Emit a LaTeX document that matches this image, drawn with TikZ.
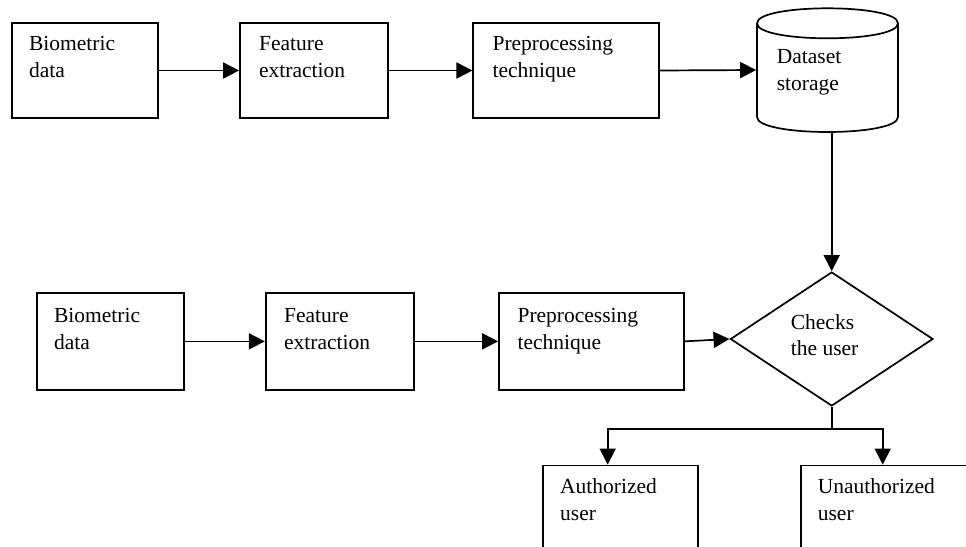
\documentclass[tikz,border=0pt]{standalone}
\usepackage{fontspec}
\setmainfont{Liberation Serif}
\usetikzlibrary{arrows.meta,shapes.geometric}
\newcommand\lblfont{\fontsize{21.5pt}{26.5pt}\selectfont}

\begin{document}
\begin{tikzpicture}[x=1pt, y=-1pt, line width=1.7pt,
  box/.style={draw, rectangle, inner sep=0pt},
  txt/.style={anchor=north west, inner sep=0pt, align=left, font=\lblfont},
  arr/.style={-{Triangle[length=16pt,width=16pt]}}]

\useasboundingbox (0,0) rectangle (966,546);
\clip (0,0) rectangle (966,546);
\fill[white] (0,0) rectangle (966,546);

% enrolment row
\node[box, minimum width=146.3pt, minimum height=95.6pt] (b1) at (84.85,70.5) {};
\node[box, minimum width=148.3pt, minimum height=95.6pt] (f1) at (314.15,70.5) {};
\node[box, minimum width=185.4pt, minimum height=95.6pt] (p1) at (566,70.5) {};

% dataset storage cylinder
\node[inner sep=0pt, minimum width=141pt, minimum height=123.4pt] (ds) at (827.5,70) {};
\draw (757,23.3) .. controls (757,3.3) and (898,3.3) .. (898,23.3)
      .. controls (898,43.3) and (757,43.3) .. (757,23.3);
\draw (757,23.3) -- (757,117)
      .. controls (757,137) and (898,137) .. (898,117) -- (898,23.3);

\node[txt] (b1t) at (28.3,31.45) {\strut Biometric\\data};
\node[txt] (f1t) at (258.3,31.45) {\strut Feature\\extraction};
\node[txt] (p1t) at (491.7,31.45) {\strut Preprocessing\\technique};
\node[txt] (dst) at (776,44.15) {\strut Dataset\\storage};

% verification row
\node[box, minimum width=147.3pt, minimum height=97.3pt] (b2) at (110.35,341.35) {};
\node[box, minimum width=148.3pt, minimum height=97.3pt] (f2) at (339.85,341.35) {};
\node[box, minimum width=185pt, minimum height=97.3pt] (p2) at (591.5,341.35) {};
\node[draw, diamond, inner sep=0pt, minimum width=202.6pt, minimum height=134pt] (dia) at (831.7,339) {};

\node[txt] (b2t) at (53.3,303.15) {\strut Biometric\\data};
\node[txt] (f2t) at (283.3,303.15) {\strut Feature\\extraction};
\node[txt] (p2t) at (516.7,303.15) {\strut Preprocessing\\technique};
\node[txt] (diat) at (790,309.75) {\strut Checks\\the user};

% outcome boxes (run off the page edge)
\node[box, minimum width=155pt, minimum height=134.5pt] (au) at (620.2,532.75) {};
\node[box, minimum width=199.3pt, minimum height=134.5pt] (un) at (900.35,532.75) {};
\node[txt] (aut) at (559.3,474.45) {\strut Authorized\\user};
\node[txt] (unt) at (817,474.45) {\strut Unauthorized\\user};

% connectors
\draw[arr] (b1.east) -- (f1.west);
\draw[arr] (f1.east) -- (p1.west);
\draw[arr] (p1.east) -- (ds.west);
\draw[arr] (ds.south -| dia.north) -- (dia.north);

\draw[arr] (b2.east) -- (f2.west);
\draw[arr] (f2.east) -- (p2.west);
\draw[arr] (p2.east) -- (dia.west);

\coordinate (jl) at (607.7,429.3);
\coordinate (jr) at (882.7,429.3);
\draw (dia.south) -- (dia.south |- jl);
\draw[arr] (dia.south |- jl) -- (jl) -- (jl |- au.north);
\draw[arr] (dia.south |- jr) -- (jr) -- (jr |- un.north);

\end{tikzpicture}
\end{document}
